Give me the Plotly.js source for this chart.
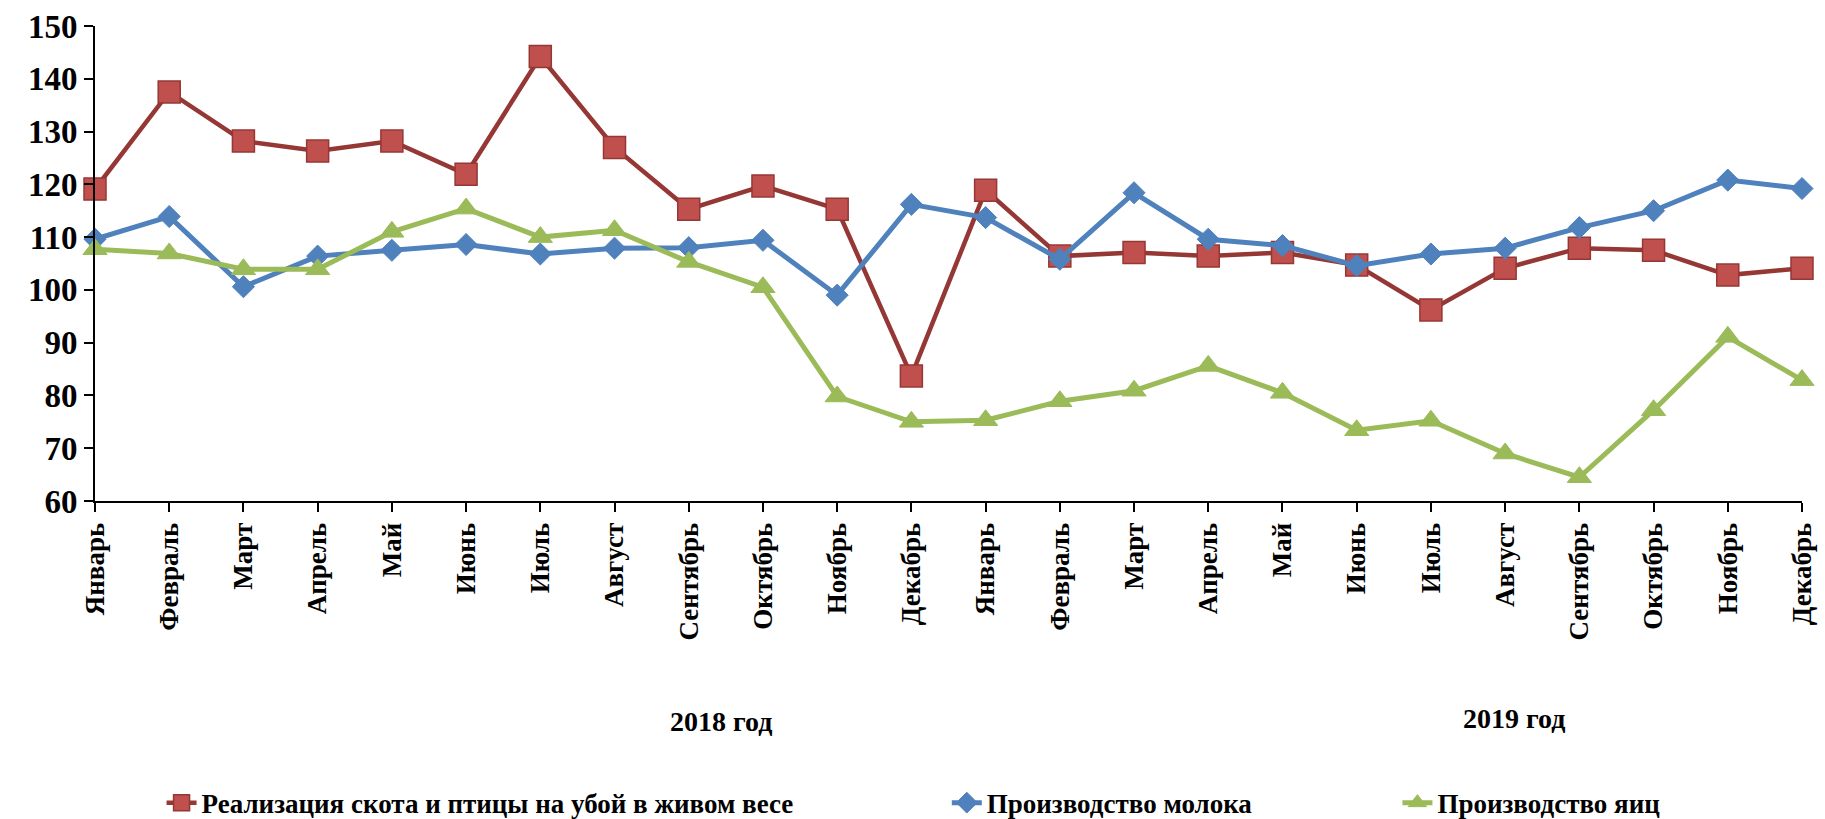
<!DOCTYPE html>
<html>
<head>
<meta charset="utf-8">
<script src="https://cdn.plot.ly/plotly-3.0.1.min.js"></script>
<style>html,body{margin:0;padding:0;background:#fff;}#chart{width:1825px;height:819px;}</style>
</head>
<body>
<div id="chart"></div>
<script>
const months = ["Январь","Февраль","Март","Апрель","Май","Июнь","Июль","Август","Сентябрь","Октябрь","Ноябрь","Декабрь",
                "Январь","Февраль","Март","Апрель","Май","Июнь","Июль","Август","Сентябрь","Октябрь","Ноябрь","Декабрь"];
const yearLabels = ["2018 год","2019 год"];
const seriesNames = ["Реализация скота и птицы на убой в живом весе","Производство молока","Производство яиц"];
const livestock = [119.1,137.5,128.2,126.3,128.2,121.9,144.2,127.0,115.3,119.7,115.3,83.7,
                   118.9,106.4,107.1,106.4,107.1,104.7,96.2,104.1,107.9,107.5,102.8,104.1];
const milk = [109.6,113.9,100.6,106.4,107.5,108.6,106.8,107.9,108.0,109.4,99.0,116.2,
              113.7,105.8,118.4,109.6,108.4,104.6,106.8,107.9,111.8,115.0,120.8,119.2];
const eggs = [107.7,106.9,103.9,103.9,111.0,115.4,110.0,111.3,105.3,100.5,79.8,75.0,
              75.3,78.9,80.9,85.6,80.5,73.4,75.2,69.0,64.5,77.2,91.1,82.9];

const idx = months.map((m,i)=>i);
const F = "'Liberation Serif','Times New Roman',serif";

const traces = [
  {x: idx, y: livestock, name: seriesNames[0], mode: "lines+markers", legend: "legend",
   line: {color: "#953735", width: 4.5},
   marker: {symbol: "square", size: 22, color: "#C0504D", line: {color: "#953735", width: 1.5}}},
  {x: idx, y: milk, name: seriesNames[1], mode: "lines+markers", legend: "legend2",
   line: {color: "#4F81BD", width: 5},
   marker: {symbol: "diamond", size: 17, color: "#4F81BD", line: {color: "#4F81BD", width: 1}}},
  {x: idx, y: eggs, name: seriesNames[2], mode: "lines+markers", legend: "legend3",
   line: {color: "#9BBB59", width: 5},
   marker: {symbol: "triangle-up", size: 21, color: "#9BBB59", line: {color: "#9BBB59", width: 1}}}
];
traces.forEach(t => { t.cliponaxis = false; t.hoverinfo = "skip"; });

const legendBase = {orientation: "h", yanchor: "middle", xanchor: "left", y: -0.636,
  font: {family: F, size: 27, color: "#000", weight: "bold"}, bgcolor: "rgba(0,0,0,0)", borderwidth: 0};

const layout = {
  width: 1825, height: 819,
  margin: {l: 95, r: 23, t: 26, b: 318, autoexpand: false},
  paper_bgcolor: "#fff", plot_bgcolor: "#fff",
  showlegend: true,
  xaxis: {range: [0, 23], tickmode: "array", tickvals: idx, ticktext: months, tickangle: -90,
          automargin: false,
          showgrid: false, zeroline: false, showline: true, linecolor: "#000", linewidth: 2,
          ticks: "outside", ticklen: 9, tickwidth: 2, tickcolor: "#000",
          tickfont: {family: F, size: 27, color: "#000", weight: "bold"}},
  yaxis: {range: [60, 150], dtick: 10, showgrid: false, zeroline: false, showline: true,
          automargin: false,
          linecolor: "#000", linewidth: 2, ticks: "outside", ticklen: 9, tickwidth: 2, tickcolor: "#000",
          tickfont: {family: F, size: 33, color: "#000", weight: "bold"}},
  legend: Object.assign({}, legendBase, {x: 0.039}),
  legend2: Object.assign({}, legendBase, {x: 0.499}),
  legend3: Object.assign({}, legendBase, {x: 0.763}),
  annotations: [
    {text: yearLabels[0], xref: "paper", yref: "paper", x: 0.367, y: -0.465, showarrow: false,
     xanchor: "center", yanchor: "middle", font: {family: F, size: 28, color: "#000", weight: "bold"}},
    {text: yearLabels[1], xref: "paper", yref: "paper", x: 0.831, y: -0.457, showarrow: false,
     xanchor: "center", yanchor: "middle", font: {family: F, size: 28, color: "#000", weight: "bold"}}
  ]
};

Plotly.newPlot("chart", traces, layout, {staticPlot: true, displayModeBar: false});
</script>
</body>
</html>
